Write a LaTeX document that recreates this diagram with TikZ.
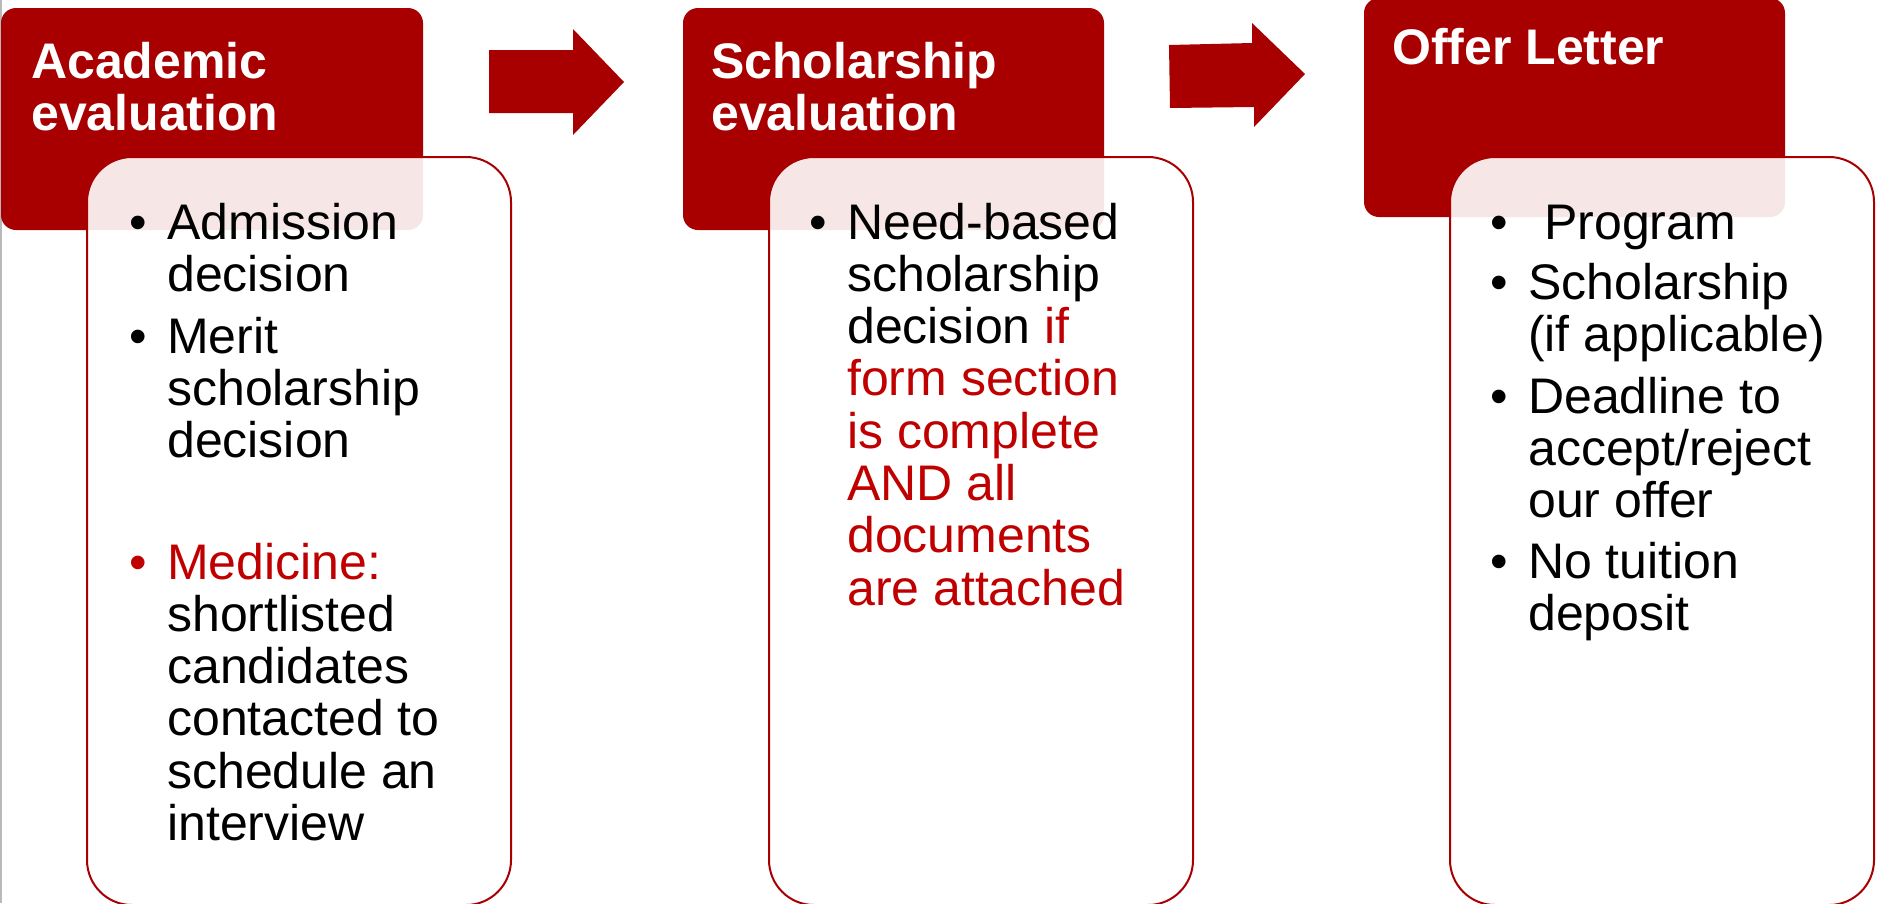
\documentclass[tikz,border=0pt]{standalone}
\usepackage{fontspec}
\setmainfont{Liberation Sans}
\definecolor{hdr}{RGB}{168,0,0}
\definecolor{rtxt}{RGB}{192,0,0}
\newcommand\stack[1]{\begin{tabular}[t]{@{}l@{}}#1\end{tabular}}
\begin{document}
\begin{tikzpicture}[x=1pt,y=-1pt,
  hdrbox/.style={fill=hdr, draw=none, rounded corners=15pt, anchor=north west, inner sep=0, outer sep=0},
  bodybox/.style={draw=hdr, line width=2pt, fill=white, fill opacity=0.9, rounded corners=45pt, anchor=north west, inner sep=0, outer sep=0},
  hdrtext/.style={anchor=base west, inner sep=0, text=white, font=\fontsize{50}{52}\selectfont\bfseries},
  bodytext/.style={anchor=base west, inner sep=0, font=\fontsize{50}{52.3}\selectfont},
  bul/.style={anchor=base, inner sep=0, font=\fontsize{50}{52.3}\selectfont},
  flow/.style={fill=hdr, draw=none}]
\useasboundingbox (0,0) rectangle (1878,903);
\fill[white] (0,0) rectangle (1878,903);
\draw[gray!55, line width=1.5pt] (0.75,0) -- (0.75,903);

% headers
\node[hdrbox, minimum width=422pt, minimum height=222pt] (h1) at (1,8) {};
\node[hdrbox, minimum width=421pt, minimum height=222pt] (h2) at (683,8) {};
\node[hdrbox, minimum width=421pt, minimum height=219pt] (h3) at (1364,-2) {};

% block arrows
\fill[flow] (489,50) -- (573,50) -- (573,29) -- (624,82) -- (573,135) -- (573,113) -- (489,113) -- cycle;
\fill[flow] (1169,45) -- (1252,43) -- (1252,23) -- (1305,74) -- (1254,127) -- (1254,107) -- (1170,108) -- cycle;

% body boxes
\node[bodybox, minimum width=424pt, minimum height=748pt] (c1) at (87,157) {};
\node[bodybox, minimum width=424pt, minimum height=748pt] (c2) at (769,157) {};
\node[bodybox, minimum width=424pt, minimum height=748pt] (c3) at (1450,157) {};

% header texts
\node[hdrtext] (ht1) at (31,78) {\stack{Academic\\evaluation}};
\node[hdrtext] (ht2) at (711,78) {\stack{Scholarship\\evaluation}};
\node[hdrtext] (ht3) at (1392,64) {Offer Letter};

% column 1
\node[bul] (b1a) at (138,239) {•};
\node[bodytext] (t1a) at (167,239) {\stack{Admission\\decision}};
\node[bul] (b1b) at (138,353) {•};
\node[bodytext] (t1b) at (167,353) {\stack{Merit\\scholarship\\decision}};
\node[bul, text=rtxt] (b1c) at (138,579) {•};
\node[bodytext] (t1c) at (167,579) {\stack{\textcolor{rtxt}{Medicine:}\\shortlisted\\candidates\\contacted to\\schedule an\\interview}};

% column 2
\node[bul] (b2a) at (818,239) {•};
\node[bodytext] (t2a) at (847,239) {\stack{Need-based\\scholarship\\decision \textcolor{rtxt}{if}\\\textcolor{rtxt}{form section}\\\textcolor{rtxt}{is complete}\\\textcolor{rtxt}{AND all}\\\textcolor{rtxt}{documents}\\\textcolor{rtxt}{are attached}}};

% column 3
\node[bul] (b3a) at (1499,239) {•};
\node[bodytext] (t3a) at (1544,239) {Program};
\node[bul] (b3b) at (1499,299) {•};
\node[bodytext] (t3b) at (1528,299) {\stack{Scholarship\\(if applicable)}};
\node[bul] (b3c) at (1499,413) {•};
\node[bodytext] (t3c) at (1528,413) {\stack{Deadline to\\accept/reject\\our offer}};
\node[bul] (b3d) at (1499,578) {•};
\node[bodytext] (t3d) at (1528,578) {\stack{No tuition\\deposit}};
\end{tikzpicture}
\end{document}
